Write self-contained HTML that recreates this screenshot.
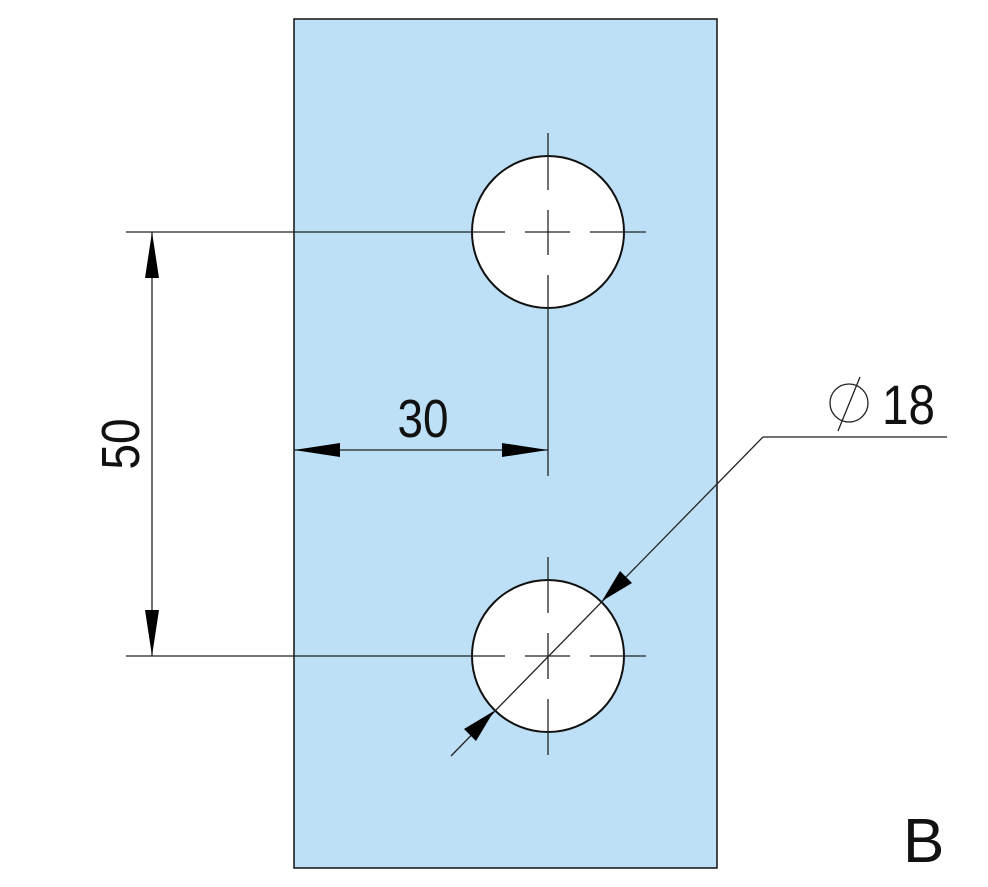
<!DOCTYPE html>
<html><head><style>html,body{margin:0;padding:0;background:#fff}svg{display:block}</style></head>
<body>
<svg width="988" height="887" viewBox="0 0 988 887" xmlns="http://www.w3.org/2000/svg">
<rect x="294" y="19" width="423" height="849" fill="#bde0f6" stroke="#111" stroke-width="1.5"/>
<g stroke="#111" stroke-width="2" fill="#fff">
<circle cx="548" cy="232" r="76"/>
<circle cx="548" cy="656" r="76"/>
</g>
<g stroke="#222" stroke-width="1.3" fill="none">
<line x1="126" y1="232" x2="505" y2="232"/>
<line x1="525" y1="232" x2="570" y2="232"/>
<line x1="590" y1="232" x2="646" y2="232"/>
<line x1="548" y1="133" x2="548" y2="190"/>
<line x1="548" y1="210" x2="548" y2="255"/>
<line x1="548" y1="275" x2="548" y2="476"/>
<line x1="126" y1="656" x2="505" y2="656"/>
<line x1="525" y1="656" x2="570" y2="656"/>
<line x1="590" y1="656" x2="646" y2="656"/>
<line x1="548" y1="557" x2="548" y2="613"/>
<line x1="548" y1="633" x2="548" y2="679"/>
<line x1="548" y1="699" x2="548" y2="755"/>
<line x1="152" y1="232" x2="152" y2="656"/>
<line x1="294" y1="450" x2="548" y2="450"/>
<line x1="451" y1="756" x2="763" y2="437"/>
<line x1="763" y1="437" x2="947" y2="437"/>
<circle cx="849" cy="403" r="19"/>
<line x1="838" y1="431" x2="860" y2="377"/>
</g>
<g fill="#000">
<polygon points="152,232 145,278 159,278"/>
<polygon points="152,656 145,610 159,610"/>
<polygon points="294,450 340,443 340,457"/>
<polygon points="548,450 502,443 502,457"/>
<polygon points="602,601 620,571 632,583"/>
<polygon points="494,711 476,741 464,729"/>
</g>
<g font-family="Liberation Sans, sans-serif" fill="#111">
<text x="0" y="0" font-size="54" transform="translate(423,437) scale(0.85,1)" text-anchor="middle">30</text>
<text x="0" y="0" font-size="54" transform="translate(139,444) rotate(-90) scale(0.85,1)" text-anchor="middle">50</text>
<text x="0" y="0" font-size="56" transform="translate(882,424) scale(0.85,1)">18</text>
<text x="903" y="862" font-size="62">B</text>
</g>
</svg>
</body></html>
